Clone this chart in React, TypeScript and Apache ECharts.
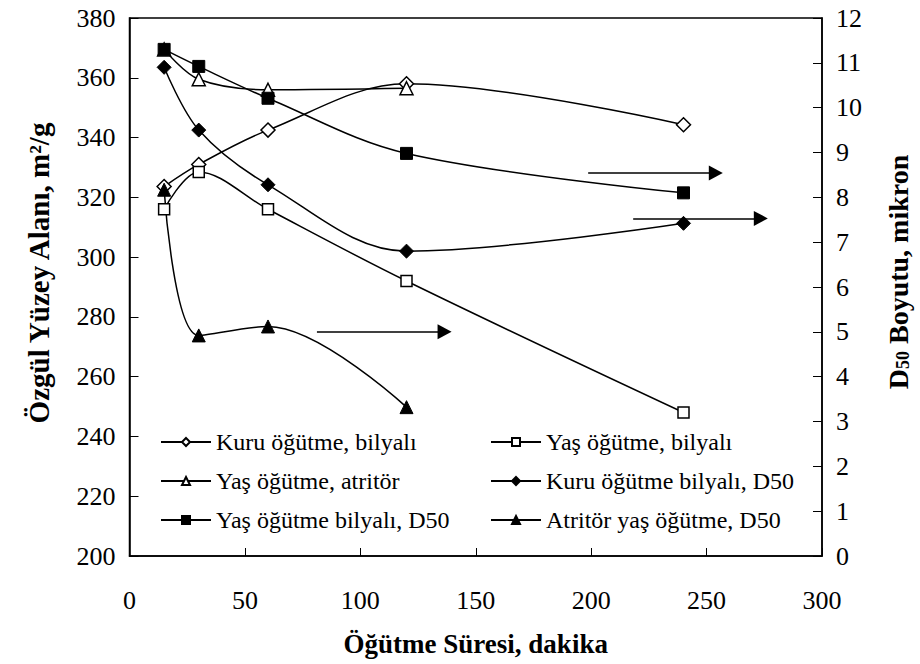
import React, { useEffect, useRef } from "react";
import * as echarts from "echarts";

// ---- data ----
const TIME_5 = [15, 30, 60, 120, 240];
const TIME_4 = [15, 30, 60, 120];
const kuruBilyali = [323.6, 331, 342.5, 358, 344.3];
const yasBilyali = [316, 328.5, 316, 292, 248];
const yasAtritor = [369.5, 359.5, 356, 356.5];
const kuruBilyaliD50 = [10.9, 9.5, 8.28, 6.8, 7.42];
const yasBilyaliD50 = [11.3, 10.92, 10.21, 8.98, 8.1];
const atritorYasD50 = [8.17, 4.92, 5.12, 3.32];

const SERIES_NAMES = [
  "Kuru öğütme, bilyalı",
  "Yaş öğütme, bilyalı",
  "Yaş öğütme, atritör",
  "Kuru öğütme bilyalı, D50",
  "Yaş öğütme bilyalı, D50",
  "Atritör yaş öğütme, D50",
];

// annotation arrows (data units on x axis / right axis)
const ARROWS = [
  { from: [81.2, 5.0], to: [136.5, 5.0] },
  { from: [198.7, 8.54], to: [254, 8.54] },
  { from: [218.2, 7.53], to: [273.5, 7.53] },
];

const FONT = "'Liberation Serif', 'Liberation Sans', sans-serif";

function pairs(xs: number[], ys: number[]) {
  return ys.map((y, i) => [xs[i], y]);
}

export default function App() {
  const ref = useRef<HTMLDivElement>(null);
  useEffect(() => {
    if (!ref.current) return;
    const chart = echarts.init(ref.current, undefined, { renderer: "svg" });
    const lineStyle = { color: "#000", width: 1.5 };
    const openStyle = { color: "#fff", borderColor: "#000", borderWidth: 1.5 };
    const filledStyle = { color: "#000", borderColor: "#000", borderWidth: 1 };
    const base = { type: "line", smooth: 0.35, lineStyle, z: 3 };
    const legendText = { fontFamily: FONT, fontSize: 24, color: "#000" };
    const option: any = {
      animation: false,
      backgroundColor: "#fff",
      textStyle: { fontFamily: FONT, color: "#000" },
      grid: {
        left: 129.5,
        right: 97,
        top: 18,
        bottom: 108,
        show: true,
        borderColor: "#000",
        borderWidth: 1.5,
        backgroundColor: "#fff",
      },
      legend: [
        {
          data: [SERIES_NAMES[0], SERIES_NAMES[2], SERIES_NAMES[4]],
          orient: "vertical",
          left: 160,
          top: 430,
          padding: 0,
          itemGap: 15,
          itemWidth: 50,
          itemHeight: 10,
          textStyle: legendText,
        },
        {
          data: [SERIES_NAMES[1], SERIES_NAMES[3], SERIES_NAMES[5]],
          orient: "vertical",
          left: 490,
          top: 430,
          padding: 0,
          itemGap: 15,
          itemWidth: 50,
          itemHeight: 10,
          textStyle: legendText,
        },
      ],
      xAxis: {
        type: "value",
        min: 0,
        max: 300,
        interval: 50,
        name: "Öğütme Süresi, dakika",
        nameLocation: "middle",
        nameGap: 74,
        nameTextStyle: { fontFamily: FONT, fontSize: 27, fontWeight: "bold", color: "#000" },
        axisLine: { show: true, lineStyle: { color: "#000", width: 1.5 } },
        axisTick: { show: true, inside: true, length: 8, lineStyle: { color: "#000", width: 1 } },
        axisLabel: { fontFamily: FONT, fontSize: 26, color: "#000", margin: 31 },
        splitLine: { show: false },
      },
      yAxis: [
        {
          type: "value",
          min: 200,
          max: 380,
          interval: 20,
          position: "left",
          name: "Özgül Yüzey Alanı, m²/g",
          nameLocation: "middle",
          nameRotate: 90,
          nameGap: 76,
          nameTextStyle: {
            fontFamily: FONT,
            fontSize: 29,
            fontWeight: "bold",
            color: "#000",
            padding: [0, 0, 0, 28],
          },
          axisLine: { show: true, lineStyle: { color: "#000", width: 1.5 } },
          axisTick: { show: true, inside: true, length: 9, lineStyle: { color: "#000", width: 1 } },
          axisLabel: { fontFamily: FONT, fontSize: 26, color: "#000", margin: 14 },
          splitLine: { show: false },
        },
        {
          type: "value",
          min: 0,
          max: 12,
          interval: 1,
          position: "right",
          name: "{a|D}{b|50}{a| Boyutu, mikron}",
          nameLocation: "middle",
          nameRotate: 90,
          nameGap: 62,
          nameTextStyle: {
            color: "#000",
            fontFamily: FONT,
            padding: [0, 0, 0, 30],
            rich: {
              a: { fontFamily: FONT, fontSize: 28, fontWeight: "bold", color: "#000" },
              b: { fontFamily: FONT, fontSize: 18, fontWeight: "bold", color: "#000", verticalAlign: "bottom", padding: [8, 0, 0, 0] },
            },
          },
          axisLine: { show: true, lineStyle: { color: "#000", width: 1.5 } },
          axisTick: { show: true, inside: true, length: 9, lineStyle: { color: "#000", width: 1 } },
          axisLabel: { fontFamily: FONT, fontSize: 26, color: "#000", margin: 14 },
          splitLine: { show: false },
        },
      ],
      series: [
        {
          ...base,
          name: SERIES_NAMES[0],
          yAxisIndex: 0,
          data: pairs(TIME_5, kuruBilyali),
          symbol: "diamond",
          symbolSize: 14,
          itemStyle: openStyle,
        },
        {
          ...base,
          name: SERIES_NAMES[1],
          yAxisIndex: 0,
          data: pairs(TIME_5, yasBilyali),
          symbol: "rect",
          symbolSize: 11,
          itemStyle: openStyle,
        },
        {
          ...base,
          name: SERIES_NAMES[2],
          yAxisIndex: 0,
          data: pairs(TIME_4, yasAtritor),
          symbol: "triangle",
          symbolSize: 13,
          itemStyle: openStyle,
        },
        {
          ...base,
          name: SERIES_NAMES[3],
          yAxisIndex: 1,
          data: pairs(TIME_5, kuruBilyaliD50),
          symbol: "diamond",
          symbolSize: 14,
          itemStyle: filledStyle,
        },
        {
          ...base,
          name: SERIES_NAMES[4],
          yAxisIndex: 1,
          data: pairs(TIME_5, yasBilyaliD50),
          symbol: "rect",
          symbolSize: 12,
          itemStyle: filledStyle,
        },
        {
          ...base,
          name: SERIES_NAMES[5],
          yAxisIndex: 1,
          data: pairs(TIME_4, atritorYasD50),
          symbol: "triangle",
          symbolSize: 13,
          itemStyle: filledStyle,
          markLine: {
            silent: true,
            symbol: ["none", "triangle"],
            symbolSize: [15, 14],
            lineStyle: { color: "#000", width: 1.5, type: "solid" },
            itemStyle: { color: "#000" },
            label: { show: false },
            data: ARROWS.map((a) => [{ coord: a.from }, { coord: a.to }]),
          },
        },
      ],
    };
    chart.setOption(option);
    return () => chart.dispose();
  }, []);
  return (
    <div
      ref={ref}
      style={{ position: "absolute", left: 0, top: 0, width: 920, height: 664 }}
    />
  );
}
